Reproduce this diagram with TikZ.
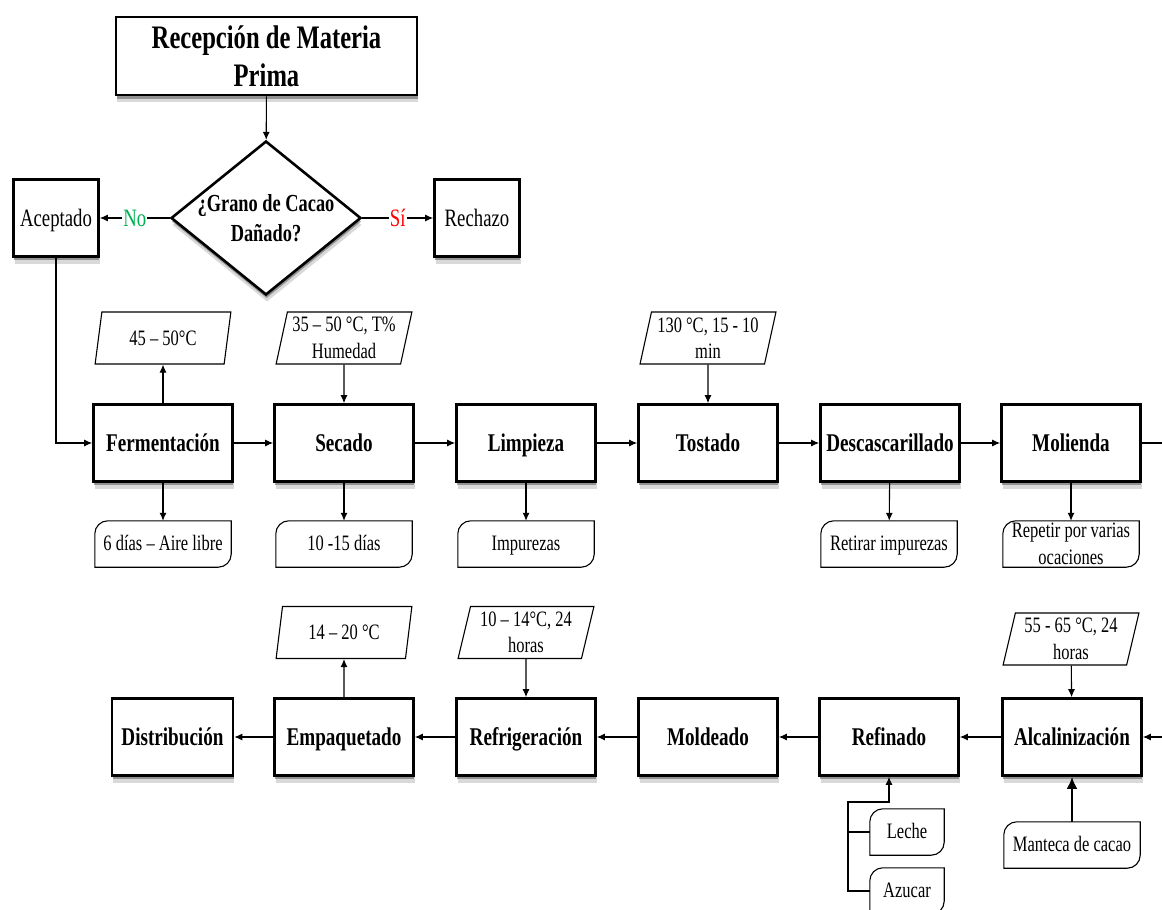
\documentclass[tikz,border=0pt]{standalone}
\usepackage{fontspec}
\setmainfont{Liberation Serif}[FakeStretch=0.75]
\usetikzlibrary{arrows.meta,shapes.geometric,shadows}
\definecolor{nogreen}{RGB}{0,176,80}
\definecolor{sired}{RGB}{255,0,0}

\begin{document}
\begin{tikzpicture}[x=1pt, y=-1pt, >={Latex[length=8pt,width=7pt]}]
    % Setup the styles for the boxes
    \tikzset{
      soft shadow/.style={
        drop shadow={shadow xshift=1pt, shadow yshift=-7pt, fill=black!50, opacity=.3},
        drop shadow={shadow xshift=0.5pt, shadow yshift=-3.5pt, fill=black!70, opacity=.5}},
      box style/.style={
        draw, rectangle,
        line width=2.6pt,
        fill=white,
        soft shadow},
      process style/.style={
        box style,
        minimum width=139pt,
        minimum height=77pt,
        text height=19pt,
        text depth=3pt,
        font=\fontsize{25.5}{30}\selectfont\bfseries},
      plain style/.style={
        box style,
        minimum width=85pt,
        minimum height=77pt,
        text height=19pt,
        text depth=3pt,
        font=\fontsize{25}{30}\selectfont},
      decision style/.style={
        diamond, draw,
        line width=2.6pt,
        fill=white,
        inner sep=0pt,
        minimum width=190pt,
        minimum height=154pt,
        align=center,
        font=\fontsize{24.5}{30}\selectfont\bfseries,
        soft shadow},
      data style/.style={
        trapezium, draw,
        line width=1.1pt,
        trapezium left angle=76,
        trapezium right angle=104,
        trapezium stretches=true,
        minimum width=136pt,
        minimum height=52pt,
        inner sep=0pt,
        align=center,
        font=\fontsize{22}{26.5}\selectfont},
      note style/.style={
        rectangle,
        minimum width=136pt,
        minimum height=46pt,
        inner sep=0pt,
        text height=16pt,
        text depth=2.5pt,
        align=center,
        font=\fontsize{22}{26.5}\selectfont,
        append after command={\pgfextra{
          \draw[line width=1.1pt]
            ([xshift=13pt]\tikzlastnode.north west) -- (\tikzlastnode.north east)
            -- ([yshift=13pt]\tikzlastnode.south east)
            arc[start angle=0, end angle=-90, radius=13pt]
            -- (\tikzlastnode.south west)
            -- ([yshift=-13pt]\tikzlastnode.north west)
            arc[start angle=180, end angle=90, radius=13pt] -- cycle;}}},
      answer/.style={
        fill=white,
        inner sep=1pt,
        font=\fontsize{25}{30}\selectfont}}

    \useasboundingbox (0,0) rectangle (1162,910);
    \clip (0,0) rectangle (1162,910);

    % Draw the reception and the check
    \node[box style, minimum width=301pt, minimum height=78pt, align=center,
          font=\fontsize{32.8}{38}\selectfont\bfseries] at (266.5,56) (recep)
          {Recepción de Materia\\Prima};
    \node[decision style] at (266,218) (check)
          {\makebox[0pt]{¿Grano de Cacao}\\\makebox[0pt]{Dañado?}};
    \node[plain style] at (56,218)  (acept) {Aceptado};
    \node[plain style] at (477,218) (rech)  {Rechazo};

    % Draw the first row of steps
    \node[process style] at (163,443)  (ferm) {Fermentación};
    \node[process style] at (344,443)  (seca) {Secado};
    \node[process style] at (526,443)  (limp) {Limpieza};
    \node[process style] at (708,443)  (tost) {Tostado};
    \node[process style] at (890,443)  (desc) {Descascarillado};
    \node[process style] at (1071,443) (moli) {Molienda};

    \node[data style] at (163,338) (fermT) {45 – 50°C};
    \node[data style] at (344,338) (secaT) {35 – 50 °C, T\%\\Humedad};
    \node[data style] at (708,338) (tostT) {130 °C, 15 - 10\\min};

    \node[note style] at (163,544)  (fermN) {6 días – Aire libre};
    \node[note style] at (344,544)  (secaN) {10 -15 días};
    \node[note style] at (526,544)  (limpN) {Impurezas};
    \node[note style] at (889,544)  (descN) {Retirar impurezas};
    \node[note style, text height=, text depth=] at (1071,544) (moliN)
          {Repetir por varias\\ocaciones};

    % Draw the second row of steps
    \node[process style, minimum width=121pt] at (172.5,737) (dist) {Distribución};
    \node[process style] at (344,737)  (empa) {Empaquetado};
    \node[process style] at (526,737)  (refr) {Refrigeración};
    \node[process style] at (708,737)  (mold) {Moldeado};
    \node[process style] at (889,737)  (refi) {Refinado};
    \node[process style] at (1072,737) (alca) {Alcalinización};

    \node[data style] at (344,632.5) (empaT) {14 – 20 °C};
    \node[data style] at (526,632.5) (refrT) {10 – 14°C, 24\\horas};
    \node[data style] at (1071,639)  (alcaT) {55 - 65 °C, 24\\horas};

    \node[note style] at (1072,845) (alcaN) {Manteca de cacao};
    \node[note style, minimum width=74pt] at (907,832) (leche) {Leche};
    \node[note style, minimum width=74pt] at (907,891) (azuc)  {Azucar};
    \coordinate (join) at (848,802);

    % Connect the steps with arrows
    \draw[line width=1.1pt, ->]
        (recep) edge (check)
        (check) edge node[answer, text=nogreen] (no) {No} (acept)
        (check) edge node[answer, text=sired]   (si) {Sí} (rech)
        (ferm)  edge (seca)
        (seca)  edge (limp)
        (limp)  edge (tost)
        (tost)  edge (desc)
        (desc)  edge (moli)
        (ferm)  edge (fermT)
        (ferm)  edge (fermN)
        (secaT) edge (seca)
        (seca)  edge (secaN)
        (limp)  edge (limpN)
        (tostT) edge (tost)
        (desc)  edge (descN)
        (moli)  edge (moliN)
        (alca)  edge (refi)
        (refi)  edge (mold)
        (mold)  edge (refr)
        (refr)  edge (empa)
        (empa)  edge (dist)
        (empa)  edge (empaT)
        (refrT) edge (refr)
        (alcaT) edge (alca);
    \draw[line width=1.1pt, ->] (acept) |- (ferm);
    \draw[line width=1.1pt, ->] (moli.east) -- ++(40,0) |- (alca.east);
    \draw[line width=1.1pt] (leche.west) -- (leche.west -| join);
    \draw[line width=1.1pt, ->] (azuc.west) -| (join) -| (refi.south);
    \draw[line width=2.4pt, -{Latex[length=12pt,width=11pt]}] (alcaN) -- (alca);
\end{tikzpicture}
\end{document}
